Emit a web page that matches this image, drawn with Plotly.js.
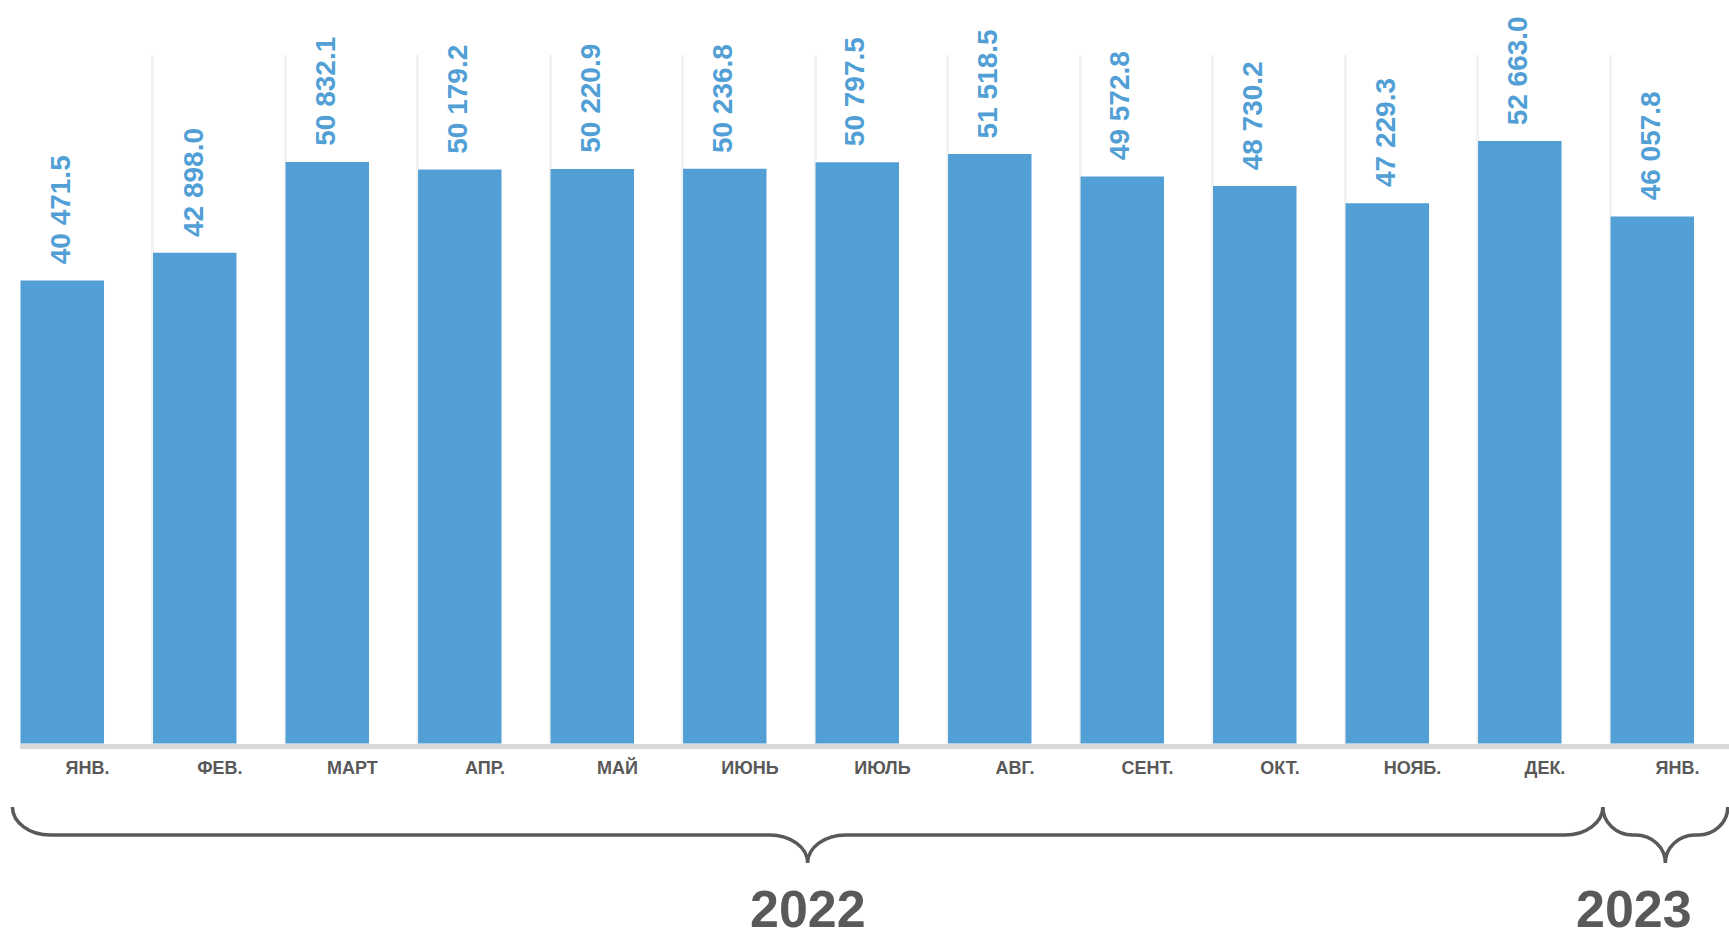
<!DOCTYPE html>
<html>
<head>
<meta charset="utf-8">
<script src="https://cdn.plot.ly/plotly-3.0.1.min.js"></script>
<style>
  html, body { margin: 0; padding: 0; background: #ffffff; }
  #chart { width: 1729px; height: 934px; }
</style>
</head>
<body>
<div id="chart"></div>
<script>
// ---- data ----
const months = ['ЯНВ.', 'ФЕВ.', 'МАРТ', 'АПР.', 'МАЙ', 'ИЮНЬ', 'ИЮЛЬ', 'АВГ.', 'СЕНТ.', 'ОКТ.', 'НОЯБ.', 'ДЕК.', 'ЯНВ.'];
const values = [40471.5, 42898.0, 50832.1, 50179.2, 50220.9, 50236.8, 50797.5, 51518.5, 49572.8, 48730.2, 47229.3, 52663.0, 46057.8];
const years = ['2022', '2023'];
const yearFirst = [0, 12];
const yearLast = [11, 12];

// ---- helpers ----
const idx = months.map((_, i) => i);
function fmt(v) {
  const parts = v.toFixed(1).split('.');
  return parts[0].replace(/\B(?=(\d{3})+(?!\d))/g, ' ') + '.' + parts[1];
}

const W = 1729, H = 934;
const M = { l: 20, r: 0, t: 55, b: 190 };
const xr = [-0.319, 12.579];
const yr = [-44, 60183];
const plotW = W - M.l - M.r, plotH = H - M.t - M.b;
const pxX = d => M.l + (d - xr[0]) / (xr[1] - xr[0]) * plotW;
const toPX = px => (px - M.l) / plotW;
const toPY = py => (H - M.b - py) / plotH;

const BLUE = '#529fd6';
const GREY = '#595959';

const barTrace = {
  type: 'bar',
  x: idx,
  y: values,
  width: 0.63,
  marker: { color: BLUE },
  hoverinfo: 'skip'
};

// value labels
const annotations = idx.map(i => ({
  x: i, y: values[i], xref: 'x', yref: 'y',
  text: fmt(values[i]),
  textangle: -90,
  showarrow: false,
  xanchor: 'center', yanchor: 'bottom',
  yshift: 14, xshift: -2,
  font: { family: 'Liberation Sans, Arial, sans-serif', size: 28, weight: 'bold', color: BLUE }
}));

// braces and year labels
const shapes = [];
const TOP = 807, MID = 835, TIP = 863, K = 0.552;
years.forEach((yy, g) => {
  const L = pxX(yearFirst[g] - (g === 0 ? 0.376 : 0.373));
  const R = g === years.length - 1 ? pxX(yearLast[g] + 0.57) : pxX(yearLast[g] + 0.627);
  const C = (L + R) / 2;
  const rx = Math.min(38, (R - L) / 4.2);
  const ry = MID - TOP, ry2 = TIP - MID;
  const P = (x, y) => toPX(x).toFixed(5) + ',' + toPY(y).toFixed(5);
  const d = 'M' + P(L, TOP) +
    ' C' + P(L, TOP + K * ry) + ' ' + P(L + rx - K * rx, MID) + ' ' + P(L + rx, MID) +
    ' L' + P(C - rx, MID) +
    ' C' + P(C - rx + K * rx, MID) + ' ' + P(C, TIP - K * ry2) + ' ' + P(C, TIP) +
    ' C' + P(C, TIP - K * ry2) + ' ' + P(C + rx - K * rx, MID) + ' ' + P(C + rx, MID) +
    ' L' + P(R - rx, MID) +
    ' C' + P(R - rx + K * rx, MID) + ' ' + P(R, TOP + K * ry) + ' ' + P(R, TOP);
  shapes.push({
    type: 'path', xref: 'paper', yref: 'paper', path: d,
    line: { color: GREY, width: 3.5 }, fillcolor: 'rgba(0,0,0,0)'
  });
  const tx = g === years.length - 1 ? C - 31 : C;
  annotations.push({
    x: toPX(tx), y: toPY(909), xref: 'paper', yref: 'paper',
    text: yy, showarrow: false, xanchor: 'center', yanchor: 'middle',
    font: { family: 'Liberation Sans, Arial, sans-serif', size: 52, weight: 'bold', color: GREY }
  });
});

const layout = {
  width: W, height: H,
  margin: M,
  paper_bgcolor: '#ffffff',
  plot_bgcolor: '#ffffff',
  showlegend: false,
  xaxis: {
    range: xr,
    tickmode: 'array',
    tickvals: idx.map(i => i + 0.19),
    ticktext: months,
    ticks: '',
    ticklabelstandoff: 3,
    showgrid: false,
    zeroline: false,
    showline: true,
    linecolor: '#d9d9d9',
    linewidth: 5,
    tickfont: { family: 'Liberation Sans, Arial, sans-serif', size: 18, weight: 'bold', color: GREY },
    minor: {
      tickmode: 'array',
      tickvals: idx.map(i => i - 0.317),
      showgrid: true,
      gridcolor: '#f3f3f3',
      gridwidth: 3,
      ticks: ''
    },
    fixedrange: true
  },
  yaxis: {
    range: yr,
    visible: false,
    showgrid: false,
    zeroline: false,
    fixedrange: true
  },
  shapes: shapes,
  annotations: annotations
};

Plotly.newPlot('chart', [barTrace], layout, { displayModeBar: false, staticPlot: true });
</script>
</body>
</html>
